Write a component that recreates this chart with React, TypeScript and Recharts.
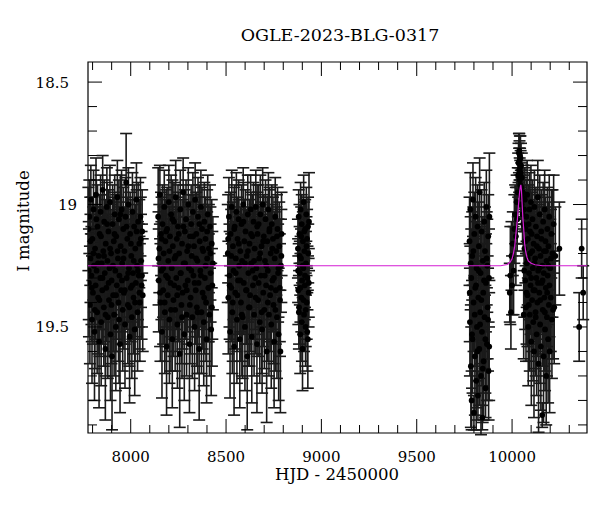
import React from 'react';
import { ScatterChart, Scatter, XAxis, YAxis, ErrorBar, ReferenceArea } from 'recharts';

// [HJD - 2450000, I mag, error]
type Obs = [number, number, number];

const season2017: Obs[] = [
  [7778,19.10,0.17],[7781,19.32,0.22],[7783,19.05,0.15],[7786,19.41,0.24],[7789,19.22,0.18],[7791,18.98,0.14],
  [7794,19.29,0.2],[7797,19.47,0.26],[7799,19.14,0.17],[7802,19.36,0.21],[7805,19.02,0.16],[7807,19.25,0.19],
  [7810,19.52,0.28],[7813,19.18,0.18],[7816,19.33,0.22],[7818,18.96,0.15],[7821,19.27,0.2],[7824,19.44,0.25],
  [7826,19.09,0.17],[7829,19.38,0.23],[7832,19.21,0.19],[7834,19.56,0.27],[7837,19.12,0.16],[7840,19.30,0.21],
  [7842,19.03,0.15],[7845,19.48,0.26],[7848,19.24,0.19],[7851,19.35,0.22],[7853,18.94,0.14],[7856,19.19,0.18],
  [7859,19.42,0.24],[7861,19.07,0.17],[7864,19.28,0.2],[7867,19.59,0.29],[7869,19.16,0.18],[7872,19.34,0.22],
  [7875,19.01,0.16],[7878,19.23,0.19],[7880,19.46,0.25],[7883,19.11,0.17],[7886,19.39,0.23],[7889,19.26,0.2],
  [7891,18.99,0.15],[7894,19.53,0.27],[7897,19.20,0.18],[7900,19.31,0.21],[7902,19.62,0.3],[7905,19.08,0.16],
  [7908,19.37,0.23],[7911,19.15,0.18],[7913,19.45,0.25],[7916,19.04,0.16],[7919,19.27,0.2],[7922,19.50,0.26],
  [7924,19.13,0.17],[7927,19.33,0.22],[7930,18.97,0.15],[7933,19.22,0.19],[7936,19.40,0.24],[7938,19.06,0.16],
  [7941,19.29,0.2],[7944,19.57,0.28],[7947,19.17,0.18],[7950,19.35,0.22],[7952,19.02,0.16],[7955,19.24,0.19],
  [7958,19.43,0.25],[7961,19.10,0.17],[7964,19.36,0.23],[7967,19.19,0.18],[7970,19.49,0.26],[7973,19.05,0.16],
  [7976,18.91,0.2],[7979,19.30,0.21],[7982,19.14,0.17],[7985,19.41,0.24],[7988,19.00,0.15],[7991,19.26,0.2],
  [7994,19.54,0.27],[7997,19.12,0.17],[8000,19.34,0.22],[8003,19.21,0.19],[8006,19.46,0.25],[8009,19.03,0.16],
  [8012,19.28,0.2],[8015,19.38,0.23],[8018,19.09,0.17],[8021,19.51,0.27],[8024,19.18,0.18],[8027,19.32,0.22],
  [8030,18.98,0.15],[8033,19.25,0.19],[8036,19.44,0.24],[8039,19.07,0.16],[8042,19.29,0.21],[8045,19.16,0.18],
  [8048,19.40,0.24],[8051,19.05,0.16],[8054,19.23,0.19],[8057,19.33,0.22],[8060,19.11,0.17],[8063,19.37,0.23],
  [7780,19.27,0.2],[7788,19.15,0.18],[7796,19.34,0.22],[7804,19.20,0.19],[7812,19.43,0.24],[7820,19.06,0.16],
  [7828,19.24,0.19],[7836,19.39,0.23],[7844,19.13,0.17],[7852,19.30,0.21],[7860,19.21,0.19],[7868,19.45,0.25],
  [7876,19.08,0.17],[7884,19.32,0.22],[7892,19.18,0.18],[7899,19.41,0.24],[7907,19.25,0.2],[7915,19.12,0.17],
  [7923,19.37,0.23],[7931,19.19,0.18],[7939,19.47,0.26],[7946,19.04,0.16],[7954,19.31,0.21],[7962,19.22,0.19],
  [7969,19.35,0.22],[7978,19.09,0.17],[7986,19.28,0.2],[7993,19.42,0.24],[8001,19.16,0.18],[8008,19.33,0.22],
  [8016,19.23,0.19],[8023,19.40,0.24],[8031,19.11,0.17],[8038,19.27,0.2],[8046,19.36,0.23],[8053,19.14,0.17],
  [8059,19.29,0.21],
];

const season2018: Obs[] = [
  [8144,19.05,0.2],[8147,19.31,0.21],[8150,19.18,0.18],[8153,18.96,0.12],[8156,19.40,0.24],[8159,19.12,0.17],
  [8161,19.27,0.2],[8164,19.52,0.27],[8167,19.08,0.16],[8170,19.35,0.22],[8173,19.20,0.19],[8176,19.01,0.15],
  [8179,19.44,0.25],[8182,19.15,0.17],[8185,19.29,0.21],[8188,19.58,0.28],[8191,19.10,0.17],[8194,19.37,0.23],
  [8197,19.23,0.19],[8200,18.99,0.15],[8203,19.47,0.26],[8206,19.13,0.17],[8209,19.32,0.22],[8212,19.04,0.16],
  [8215,19.26,0.2],[8218,19.55,0.28],[8221,19.17,0.18],[8224,19.39,0.23],[8227,19.07,0.16],[8230,19.22,0.19],
  [8233,19.43,0.25],[8236,18.97,0.15],[8239,19.30,0.21],[8242,19.14,0.17],[8245,19.49,0.26],[8248,19.09,0.17],
  [8251,19.34,0.22],[8254,19.20,0.19],[8257,19.61,0.3],[8260,19.02,0.16],[8263,19.28,0.2],[8266,19.41,0.24],
  [8269,19.16,0.18],[8272,19.36,0.23],[8275,18.95,0.14],[8278,19.24,0.19],[8281,19.53,0.27],[8284,19.11,0.17],
  [8287,19.33,0.22],[8290,19.06,0.16],[8293,19.45,0.25],[8296,19.19,0.18],[8299,19.31,0.21],[8302,19.00,0.15],
  [8305,19.26,0.2],[8308,19.57,0.28],[8311,19.13,0.17],[8314,19.38,0.23],[8317,19.08,0.16],[8320,19.21,0.19],
  [8323,19.46,0.25],[8326,19.03,0.16],[8329,19.29,0.21],[8332,19.17,0.18],[8335,19.50,0.26],[8338,18.98,0.15],
  [8341,19.35,0.22],[8344,19.12,0.17],[8347,19.42,0.24],[8350,19.23,0.19],[8353,19.05,0.16],[8356,19.32,0.22],
  [8359,19.59,0.29],[8362,19.15,0.18],[8365,19.27,0.2],[8368,19.01,0.15],[8371,19.44,0.25],[8374,19.10,0.17],
  [8377,19.36,0.23],[8380,19.19,0.18],[8383,19.48,0.26],[8386,19.07,0.16],[8389,19.30,0.21],[8392,19.14,0.17],
  [8395,19.40,0.24],[8398,19.55,0.26],[8401,19.22,0.19],[8404,19.04,0.16],[8407,19.34,0.22],[8410,19.18,0.18],
  [8413,19.45,0.25],[8416,19.09,0.17],[8419,19.28,0.2],[8422,19.51,0.27],[8425,19.16,0.18],[8428,19.33,0.22],
  [8431,19.24,0.19],
  [8146,19.22,0.19],[8154,19.36,0.22],[8162,19.14,0.17],[8170,19.26,0.2],[8178,19.40,0.24],[8186,19.11,0.17],
  [8195,19.30,0.21],[8203,19.19,0.18],[8211,19.43,0.25],[8219,19.06,0.16],[8228,19.33,0.22],[8236,19.21,0.19],
  [8244,19.37,0.23],[8252,19.12,0.17],[8261,19.28,0.2],[8269,19.46,0.25],[8277,19.09,0.17],[8285,19.24,0.19],
  [8294,19.35,0.22],[8302,19.17,0.18],[8310,19.41,0.24],[8318,19.27,0.2],[8327,19.13,0.17],[8335,19.32,0.22],
  [8343,19.22,0.19],[8351,19.44,0.25],[8360,19.08,0.16],[8368,19.29,0.21],[8376,19.18,0.18],[8385,19.38,0.23],
  [8393,19.25,0.2],[8401,19.11,0.17],[8409,19.34,0.22],[8418,19.20,0.19],[8426,19.42,0.24],
];

const season2019: Obs[] = [
  [8509,19.20,0.2],[8512,19.38,0.23],[8515,19.05,0.16],[8518,19.29,0.21],[8521,19.52,0.27],[8524,19.12,0.17],
  [8527,19.34,0.22],[8530,19.01,0.15],[8533,19.44,0.25],[8536,19.17,0.18],[8539,19.27,0.2],[8542,19.58,0.28],
  [8545,19.09,0.17],[8548,19.36,0.23],[8551,19.22,0.19],[8554,19.03,0.16],[8557,19.47,0.26],[8560,19.14,0.17],
  [8563,19.31,0.22],[8566,19.06,0.16],[8569,19.25,0.2],[8572,19.55,0.28],[8575,19.19,0.18],[8578,19.40,0.24],
  [8581,19.08,0.16],[8584,19.23,0.19],[8587,19.46,0.25],[8590,19.00,0.15],[8593,19.32,0.21],[8596,19.15,0.17],
  [8599,19.50,0.26],[8602,19.11,0.17],[8605,19.35,0.22],[8608,19.21,0.19],[8611,19.62,0.3],[8614,19.04,0.16],
  [8617,19.28,0.2],[8620,19.42,0.24],[8623,19.16,0.18],[8626,19.37,0.23],[8629,19.02,0.14],[8632,19.24,0.19],
  [8635,19.54,0.27],[8638,19.13,0.17],[8641,19.33,0.22],[8644,19.07,0.16],[8647,19.45,0.25],[8650,19.18,0.18],
  [8653,19.30,0.21],[8656,19.01,0.15],[8659,19.26,0.2],[8662,19.57,0.28],[8665,19.12,0.17],[8668,19.39,0.23],
  [8671,19.08,0.16],[8674,19.22,0.19],[8677,19.48,0.25],[8680,19.04,0.16],[8683,19.29,0.21],[8686,19.17,0.18],
  [8689,19.51,0.26],[8692,19.00,0.15],[8695,19.36,0.22],[8698,19.13,0.17],[8701,19.43,0.24],[8704,19.23,0.19],
  [8707,19.06,0.16],[8710,19.33,0.22],[8713,19.60,0.29],[8716,19.15,0.18],[8719,19.27,0.2],[8722,19.02,0.15],
  [8725,19.45,0.25],[8728,19.10,0.17],[8731,19.37,0.23],[8734,19.20,0.18],[8737,19.49,0.26],[8740,19.08,0.16],
  [8743,19.31,0.21],[8746,19.14,0.17],[8749,19.41,0.24],[8752,19.56,0.27],[8755,19.22,0.19],[8758,19.05,0.16],
  [8761,19.35,0.22],[8764,19.19,0.18],[8767,19.46,0.25],[8770,19.10,0.17],[8773,19.28,0.2],[8776,19.53,0.27],
  [8779,19.17,0.18],[8782,19.34,0.22],[8785,19.60,0.25],[8788,19.25,0.19],[8791,19.12,0.17],
  [8511,19.14,0.18],[8519,19.33,0.22],[8527,19.21,0.19],[8535,19.40,0.24],[8543,19.10,0.17],[8551,19.28,0.2],
  [8559,19.37,0.23],[8567,19.16,0.18],[8575,19.31,0.21],[8583,19.45,0.25],[8591,19.07,0.16],[8599,19.24,0.19],
  [8607,19.35,0.22],[8615,19.19,0.18],[8623,19.42,0.24],[8631,19.12,0.17],[8639,19.27,0.2],[8647,19.23,0.19],
  [8655,19.38,0.23],[8663,19.09,0.17],[8671,19.32,0.21],[8679,19.20,0.19],[8687,19.44,0.25],[8695,19.15,0.18],
  [8703,19.29,0.21],[8711,19.25,0.2],[8719,19.40,0.24],[8727,19.11,0.17],[8735,19.34,0.22],[8743,19.18,0.18],
  [8751,19.30,0.21],[8759,19.43,0.25],[8767,19.13,0.17],[8775,19.26,0.2],[8783,19.39,0.23],[8790,19.21,0.19],
];

const season2020: Obs[] = [
  [8877,19.18,0.12],[8879,19.35,0.14],[8881,19.05,0.11],[8883,19.42,0.15],[8885,19.12,0.12],[8887,19.28,0.13],
  [8889,19.53,0.16],[8891,19.02,0.11],[8893,19.22,0.12],[8895,19.38,0.14],[8897,19.08,0.12],[8899,19.31,0.13],
  [8901,19.59,0.17],[8903,19.15,0.12],[8905,19.26,0.13],[8907,18.99,0.11],[8909,19.45,0.15],[8911,19.19,0.12],
  [8913,19.33,0.14],[8915,19.10,0.12],[8917,19.50,0.16],[8919,19.24,0.13],[8921,19.04,0.11],[8923,19.40,0.15],
  [8925,19.14,0.12],[8927,19.30,0.13],[8929,19.55,0.2],[8931,19.20,0.12],[8933,19.36,0.14],[8935,19.07,0.2],
  [8878,19.27,0.13],[8882,19.44,0.15],[8886,19.21,0.12],[8890,19.34,0.14],[8894,19.13,0.12],[8898,19.48,0.16],
  [8902,19.25,0.13],[8906,19.39,0.14],[8910,19.11,0.12],[8914,19.29,0.13],[8918,19.43,0.15],[8922,19.17,0.12],
  [8926,19.52,0.16],[8930,19.09,0.12],[8934,19.32,0.14],
];

const season2022: Obs[] = [
  [9777,19.15,0.18],[9779,19.48,0.22],[9781,19.02,0.15],[9784,19.66,0.25],[9786,19.30,0.2],[9788,19.80,0.12],
  [9791,19.21,0.18],[9793,19.55,0.22],[9795,18.98,0.15],[9798,19.40,0.2],[9800,19.85,0.07],[9802,19.12,0.17],
  [9805,19.62,0.24],[9807,19.34,0.2],[9809,19.05,0.16],[9812,19.72,0.2],[9814,19.26,0.19],[9816,19.50,0.22],
  [9819,19.09,0.17],[9821,19.78,0.1],[9823,19.38,0.21],[9826,19.17,0.18],[9828,19.59,0.23],[9830,18.95,0.14],
  [9833,19.44,0.21],[9835,19.28,0.19],[9837,19.70,0.24],[9840,19.11,0.17],[9842,19.52,0.22],[9844,19.87,0.05],
  [9847,19.23,0.18],[9849,19.36,0.2],[9851,19.64,0.24],[9854,19.07,0.16],[9856,19.46,0.21],[9858,19.19,0.18],
  [9861,19.75,0.12],[9863,19.32,0.2],[9865,19.01,0.15],[9868,19.57,0.23],[9870,19.25,0.19],[9872,19.42,0.21],
  [9875,19.13,0.17],[9877,19.68,0.2],[9879,19.30,0.2],[9881,19.05,0.26],
  [9778,19.36,0.2],[9783,19.24,0.19],[9790,19.53,0.22],[9797,19.19,0.18],[9804,19.45,0.21],[9811,19.33,0.2],
  [9818,19.60,0.23],[9825,19.27,0.19],[9832,19.49,0.22],[9839,19.39,0.21],[9846,19.67,0.22],[9853,19.31,0.2],
  [9860,19.55,0.22],[9867,19.22,0.19],[9874,19.47,0.21],[9880,19.58,0.22],
];

const season2023: Obs[] = [
  [9988,19.36,0.12],[9991,19.29,0.2],[9994,19.44,0.15],[9997,19.21,0.14],[10000,19.33,0.12],[10004,19.16,0.13],
  [10008,19.27,0.18],[10012,19.10,0.14],[10016,19.04,0.12],[10020,19.13,0.2],[10024,18.99,0.11],[10027,19.06,0.13],
  [10030,18.95,0.1],[10032,18.88,0.09],[10034,18.83,0.08],[10036,18.79,0.08],[10037,18.86,0.09],[10038,18.78,0.07],
  [10039,18.82,0.08],[10040,18.90,0.09],[10041,18.80,0.08],[10042,18.85,0.08],[10043,18.92,0.1],[10044,18.81,0.09],
  [10045,18.87,0.09],[10046,18.96,0.1],[10047,18.84,0.09],[10048,18.93,0.1],[10050,19.0,0.11],[10051,18.89,0.1],
  [10053,18.97,0.11],[10055,19.04,0.12],[10057,18.95,0.11],[10059,19.08,0.13],[10061,19.45,0.18],
  [10063,19.02,0.14],[10065,19.18,0.17],[10067,18.98,0.13],[10069,19.31,0.2],[10071,19.10,0.15],[10073,19.42,0.22],
  [10075,19.05,0.15],[10077,19.24,0.18],[10079,18.96,0.14],[10081,19.37,0.21],[10083,19.14,0.16],[10085,19.50,0.24],
  [10087,19.08,0.16],[10089,19.28,0.19],[10091,19.02,0.15],[10093,19.45,0.23],[10095,19.20,0.18],[10097,19.33,0.2],
  [10099,18.99,0.15],[10101,19.56,0.26],[10103,19.12,0.17],[10105,19.39,0.21],[10107,19.06,0.16],[10109,19.26,0.19],
  [10111,19.48,0.24],[10113,19.16,0.17],[10115,19.60,0.27],[10117,19.01,0.15],[10119,19.35,0.2],[10121,19.22,0.18],
  [10123,19.44,0.23],[10125,19.09,0.16],[10127,19.30,0.2],[10129,19.53,0.25],[10131,19.13,0.17],[10133,19.40,0.22],
  [10135,18.97,0.15],[10137,19.27,0.19],[10139,19.65,0.28],[10141,19.18,0.18],[10143,19.36,0.21],[10145,19.04,0.16],
  [10147,19.49,0.24],[10149,19.21,0.18],[10151,19.58,0.26],[10153,19.11,0.17],[10155,19.32,0.2],[10158,19.86,0.05],
  [10159,19.25,0.19],[10161,19.43,0.23],[10163,19.07,0.16],[10165,19.62,0.27],[10167,19.19,0.18],[10169,19.38,0.22],
  [10171,19.02,0.16],[10173,19.51,0.25],[10175,19.15,0.18],[10177,19.34,0.21],[10179,19.70,0.2],[10181,19.23,0.19],
  [10183,19.46,0.24],[10185,19.10,0.17],[10187,19.29,0.2],[10189,19.55,0.26],[10191,19.17,0.18],[10193,19.41,0.22],
  [10195,19.05,0.17],[10197,19.60,0.25],[10200,19.26,0.2],[10203,19.38,0.22],[10206,19.12,0.18],[10209,19.47,0.24],
  [10212,19.20,0.26],[10215,19.43,0.2],[10218,19.08,0.2],[10221,19.42,0.23],[10227,19.21,0.2],[10248,19.18,0.19],
  [10064,19.27,0.19],[10070,19.15,0.17],[10076,19.36,0.21],[10082,19.22,0.19],[10088,19.41,0.23],[10094,19.11,0.17],
  [10100,19.30,0.2],[10106,19.19,0.18],[10112,19.35,0.21],[10118,19.24,0.19],[10124,19.46,0.24],[10130,19.17,0.18],
  [10136,19.32,0.21],[10142,19.26,0.2],[10148,19.39,0.22],[10154,19.14,0.18],[10160,19.31,0.21],[10166,19.28,0.2],
  [10172,19.44,0.24],[10178,19.19,0.18],[10184,19.36,0.22],[10190,19.25,0.2],[10196,19.33,0.21],[10204,19.22,0.2],
];

const season2024: Obs[] = [
  [10352,19.50,0.14],[10365,19.18,0.12],[10373,19.36,0.11],
];

// fitted microlensing model
const modelCurve: [number, number][] = [
  [7776,19.25],[9940,19.25],[9975,19.245],[9990,19.235],[10000,19.222],[10007,19.2],[10014,19.17],
  [10019,19.13],[10024,19.09],[10028,19.06],[10032,19.02],[10036,18.98],[10040,18.945],[10043,18.93],
  [10046,18.92],[10049,18.94],[10053,19.0],[10057,19.06],[10061,19.1],[10066,19.16],[10071,19.19],
  [10078,19.215],[10085,19.23],[10100,19.24],[10120,19.246],[10160,19.25],[10393,19.25],
];

const xTicks = [7800,7900,8000,8100,8200,8300,8400,8500,8600,8700,8800,8900,9000,9100,9200,
  9300,9400,9500,9600,9700,9800,9900,10000,10100,10200,10300];
const xMajorTicks = [8000, 8500, 9000, 9500, 10000];
const yTicks = [18.5,18.6,18.7,18.8,18.9,19,19.1,19.2,19.3,19.4,19.5,19.6,19.7,19.8,19.9];
const yMajorTicks = [18.5, 19, 19.5];

const X_DOMAIN: [number, number] = [7776, 10393];
const Y_DOMAIN: [number, number] = [18.418, 19.933];

const PLOT_LEFT = 88;
const PLOT_RIGHT = 587;
const PLOT_TOP = 62;
const PLOT_BOTTOM = 433;
const FONT = '"DejaVu Serif", serif';

const observations = [season2017, season2018, season2019, season2020, season2022, season2023, season2024]
  .flat()
  .sort((a, b) => a[0] - b[0])
  .map(([t, mag, err]) => ({ t, mag, err }));
const modelData = modelCurve.map(([t, mag]) => ({ t, mag }));

const XTick = ({ x, payload }: any) => {
  const major = xMajorTicks.includes(payload.value);
  const len = major ? 14 : 8;
  return (
    <g>
      <line x1={x} x2={x} y1={PLOT_BOTTOM} y2={PLOT_BOTTOM - len} stroke="#000" />
      <line x1={x} x2={x} y1={PLOT_TOP} y2={PLOT_TOP + len} stroke="#000" />
      {major && (
        <text x={x} y={462} textAnchor="middle" fontFamily={FONT} fontSize={15} fill="#000">
          {payload.value}
        </text>
      )}
    </g>
  );
};

const YTick = ({ y, payload }: any) => {
  const major = yMajorTicks.includes(payload.value);
  const len = major ? 14 : 9;
  const label = String(payload.value);
  return (
    <g>
      <line x1={PLOT_LEFT} x2={PLOT_LEFT + len} y1={y} y2={y} stroke="#000" />
      <line x1={PLOT_RIGHT - len} x2={PLOT_RIGHT} y1={y} y2={y} stroke="#000" />
      {major && (
        <text x={label.length > 2 ? 69 : 77} y={y + 5.5} textAnchor="end" fontFamily={FONT} fontSize={15} fill="#000">
          {label}
        </text>
      )}
    </g>
  );
};

const Dot = (p: any) => <circle cx={p.cx} cy={p.cy} r={2.9} fill="#000" />;

export default function App() {
  return (
    <div style={{ position: 'absolute', left: 0, top: 0, width: 600, height: 512, background: '#fff' }}>
      <ScatterChart width={600} height={512} margin={{ top: 62, right: 13, bottom: 0, left: 0 }}>
        <XAxis
          type="number"
          dataKey="t"
          domain={X_DOMAIN}
          allowDataOverflow
          ticks={xTicks}
          interval={0}
          height={79}
          tickSize={0}
          tickMargin={0}
          tickLine={false}
          axisLine={false}
          tick={<XTick />}
        />
        <YAxis
          type="number"
          dataKey="mag"
          domain={Y_DOMAIN}
          reversed
          allowDataOverflow
          ticks={yTicks}
          interval={0}
          width={88}
          tickSize={0}
          tickMargin={0}
          tickLine={false}
          axisLine={false}
          tick={<YTick />}
        />
        <Scatter data={observations} shape={<Dot />} isAnimationActive={false}>
          <ErrorBar dataKey="err" direction="y" width={6} stroke="#1a1a1a" strokeWidth={1.6} isAnimationActive={false} />
        </Scatter>
        <Scatter
          data={modelData}
          line={{ stroke: '#d41cd4', strokeWidth: 1.2 }}
          shape={() => <g />}
          isAnimationActive={false}
        />
        <ReferenceArea
          x1={X_DOMAIN[0]}
          x2={X_DOMAIN[1]}
          y1={Y_DOMAIN[0]}
          y2={Y_DOMAIN[1]}
          fill="none"
          stroke="#000"
          strokeWidth={1.2}
          ifOverflow="visible"
        />
      </ScatterChart>
      <svg width={600} height={512} style={{ position: 'absolute', left: 0, top: 0, pointerEvents: 'none' }}>
        <text x={340} y={41} textAnchor="middle" fontFamily={FONT} fontSize={17.5} fill="#000">
          OGLE-2023-BLG-0317
        </text>
        <text x={337} y={480} textAnchor="middle" fontFamily={FONT} fontSize={16.5} fill="#000">
          HJD - 2450000
        </text>
        <text
          x={29}
          y={221}
          transform="rotate(-90 29 221)"
          textAnchor="middle"
          fontFamily={FONT}
          fontSize={16.5}
          fill="#000"
        >
          I magnitude
        </text>
      </svg>
    </div>
  );
}
